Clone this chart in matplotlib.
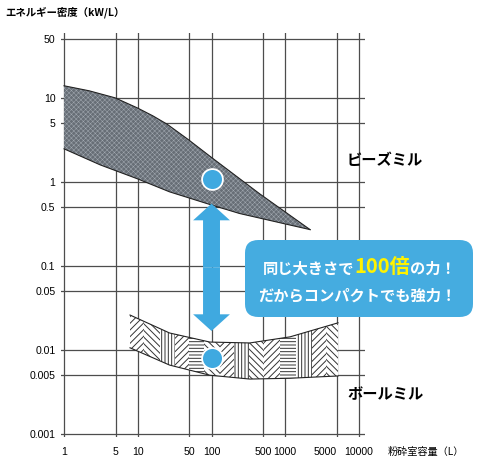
import matplotlib.pyplot as plt
import numpy as np
from matplotlib.patches import FancyBboxPatch, FancyArrowPatch
from matplotlib.ticker import NullLocator

plt.rcParams['font.family'] = ['Noto Sans CJK JP', 'DejaVu Sans']

# axis ticks
x_ticks = [1, 5, 10, 50, 100, 500, 1000, 5000, 10000]
x_labels = ['1', '5', '10', '50', '100', '500', '1000', '5000', '10000']
y_ticks = [0.001, 0.005, 0.01, 0.05, 0.1, 0.5, 1, 5, 10, 50]
y_labels = ['0.001', '0.005', '0.01', '0.05', '0.1', '0.5', '1', '5', '10', '50']

# bead mill band (upper / lower edge)
bead_up_x = [1, 2.2, 4.9, 9.8, 16, 25, 48, 100, 450, 2170]
bead_up_y = [13.9, 12.1, 10.0, 7.6, 6.1, 4.85, 3.2, 1.95, 0.72, 0.27]
bead_lo_x = [1, 3.1, 9.8, 27, 100, 240, 2170]
bead_lo_y = [2.47, 1.59, 1.09, 0.76, 0.53, 0.42, 0.27]

# ball mill band
ball_x = [7.85, 27, 95, 330, 1160, 5200]
ball_up_y = [0.026, 0.0159, 0.0124, 0.0121, 0.0143, 0.021]
ball_lo_y = [0.0106, 0.0066, 0.0050, 0.0045, 0.0046, 0.0049]

# highlighted points at 100 L
pt_x = [100, 100]
pt_y = [1.08, 0.0080]
arrow_y = [0.55, 0.0168]

blue = '#3fa9e0'

fig = plt.figure(figsize=(4.8, 4.65), dpi=100)
ax = fig.add_axes([61 / 480, 1 - 437 / 465, 304 / 480, 404 / 465])
ax.set_xscale('log')
ax.set_yscale('log')
ax.set_xlim(0.91, 12060)
ax.set_ylim(0.00092, 59)
ax.set_xticks(x_ticks)
ax.set_xticklabels(x_labels)
ax.set_yticks(y_ticks)
ax.set_yticklabels(y_labels)
ax.xaxis.set_minor_locator(NullLocator())
ax.yaxis.set_minor_locator(NullLocator())
ax.tick_params(length=0, labelsize=7.6)
ax.tick_params(axis='x', pad=7)
ax.tick_params(axis='y', pad=4)
for lab in ax.get_xticklabels() + ax.get_yticklabels():
    lab.set_family('Liberation Sans')
# the 5000 label sits left of its line so it clears 10000
ax.get_xticklabels()[7].set_horizontalalignment('right')
for s in ax.spines.values():
    s.set_visible(False)
ax.grid(True, color='#4d4d4d', lw=0.9)
ax.set_axisbelow(True)

# bead mill - fine crosshatch as a texture
bx = np.r_[bead_up_x, bead_lo_x[::-1]]
by = np.r_[bead_up_y, bead_lo_y[::-1]]
with plt.rc_context({'hatch.linewidth': 0.35}):
    bead = ax.fill(bx, by, facecolor='#676e76', edgecolor='#a2a9b1', hatch='xxxxxxx', lw=0, zorder=2)[0]
    if hasattr(bead, 'set_hatch_linewidth'):
        bead.set_hatch_linewidth(0.35)
ax.plot(bead_up_x, bead_up_y, color='#222222', lw=0.8, zorder=3)
ax.plot(bead_lo_x, bead_lo_y, color='#222222', lw=0.8, zorder=3)

# ball mill - patches of line hatching
poly = ax.fill(np.r_[ball_x, ball_x[::-1]], np.r_[ball_up_y, ball_lo_y[::-1]],
               facecolor='white', lw=0, zorder=2)[0]
edges = [7.85, 12, 20, 32, 50, 80, 130, 200, 320, 520, 850, 1400, 2300, 3600, 5200]
hatches = ['/////', '\\\\\\\\\\', '|||||', '/////', '-----', '\\\\\\\\\\', '/////', '|||||',
           '\\\\\\\\\\', '/////', '-----', '|||||', '/////', '\\\\\\\\\\']
with plt.rc_context({'hatch.linewidth': 0.7}):
    for i in range(len(edges) - 1):
        sp = ax.axvspan(edges[i], edges[i + 1], facecolor='none', edgecolor='#333333',
                        hatch=hatches[i], lw=0, zorder=2.5)
        if hasattr(sp, 'set_hatch_linewidth'):
            sp.set_hatch_linewidth(0.7)
        sp.set_clip_path(poly)
ax.plot(ball_x, ball_up_y, color='#222222', lw=0.8, zorder=3)
ax.plot(ball_x, ball_lo_y, color='#222222', lw=0.8, zorder=3)

# arrow
mid = np.sqrt(arrow_y[0] * arrow_y[1])
for end in arrow_y:
    ax.add_patch(FancyArrowPatch((100, mid), (100, end),
                                 arrowstyle='simple,head_length=12,head_width=26.5,tail_width=12.2',
                                 mutation_scale=1, shrinkA=0, shrinkB=0, color=blue, lw=0, zorder=4))

ax.plot(pt_x, pt_y, 'o', ms=15, color=blue, mec='white', mew=1.3, zorder=5)

ax.text(6880, 1.83, 'ビーズミル', fontsize=11, fontweight='bold', va='center', ha='left')
ax.text(6880, 0.003, 'ボールミル', fontsize=11, fontweight='bold', va='center', ha='left')

# callout
box = FancyBboxPatch((245 / 480, 1 - 317 / 465), 228 / 480, 77 / 465,
                     boxstyle='round,pad=0,rounding_size=0.028', transform=fig.transFigure,
                     facecolor='#45ace0', edgecolor='none', zorder=10, clip_on=False)
ax.add_patch(box)
t1 = ax.text(263 / 480, 1 - 277 / 465, '同じ大きさで', color='white', fontsize=11,
             fontweight='bold', va='bottom', ha='left', zorder=11, transform=fig.transFigure)
t2 = ax.annotate('100倍', xy=(1, 0), xycoords=t1, va='bottom', ha='left', color='#fff200',
                 fontsize=14.5, fontweight='bold', annotation_clip=False, zorder=11)
ax.annotate('の力！', xy=(1, 0), xycoords=t2, va='bottom', ha='left', color='white',
            fontsize=11, fontweight='bold', annotation_clip=False, zorder=11)
ax.text(357 / 480, 1 - 295 / 465, 'だからコンパクトでも強力！', color='white', fontsize=11,
        fontweight='bold', va='center', ha='center', zorder=11, transform=fig.transFigure)

fig.text(5 / 480, 1 - 12 / 465, 'エネルギー密度（kW/L）', fontsize=7.5, fontweight='bold',
         va='center', ha='left')
fig.text(388 / 480, 1 - 452 / 465, '粉砕室容量（L）', fontsize=7.3, va='center', ha='left')

fig.savefig('out.png', dpi=100)
